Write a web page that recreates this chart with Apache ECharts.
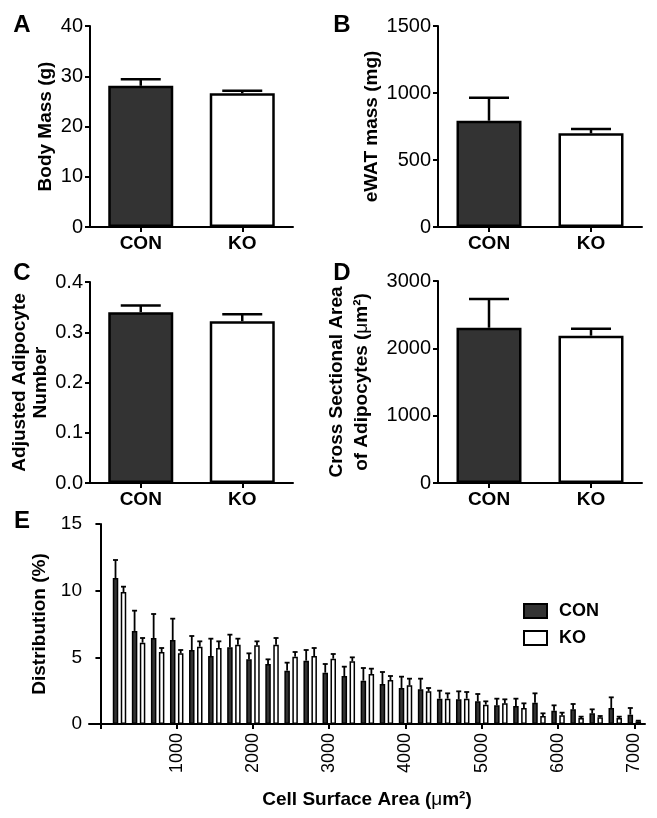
<!DOCTYPE html>
<html>
<head>
<meta charset="utf-8">
<script src="https://cdn.jsdelivr.net/npm/echarts@6/dist/echarts.min.js"></script>
<style>
html,body{margin:0;padding:0;background:#fff;}
#chart{width:657px;height:818px;}
</style>
</head>
<body>
<div id="chart"></div>
<script>
// ---------- data ----------
const groups = ['CON', 'KO'];

const bodyMass = [28.1, 26.6];
const bodyMassErr = [1.3, 0.5];

const ewatMass = [793, 699];
const ewatMassErr = [172, 32];

const adipNumber = [0.340, 0.322];
const adipNumberErr = [0.013, 0.014];

const crossArea = [2306, 2188];
const crossAreaErr = [427, 104];

const binCenters = [250, 500, 750, 1000, 1250, 1500, 1750, 2000, 2250, 2500, 2750, 3000, 3250, 3500,
  3750, 4000, 4250, 4500, 4750, 5000, 5250, 5500, 5750, 6000, 6250, 6500, 6750, 7000];
const conDist = [10.95, 6.98, 6.45, 6.3, 5.55, 5.1, 5.75, 4.85, 4.5, 4.0, 4.75, 3.85, 3.6, 3.25,
  3.0, 2.7, 2.6, 1.9, 1.85, 1.7, 1.4, 1.35, 1.6, 1.0, 1.1, 0.8, 1.2, 0.7];
const conDistErr = [1.35, 1.52, 1.8, 1.6, 1.05, 1.3, 0.95, 0.45, 0.35, 0.6, 0.8, 0.65, 0.7, 0.95,
  0.9, 0.85, 0.8, 0.6, 0.6, 0.55, 0.5, 0.55, 0.7, 0.4, 0.4, 0.3, 0.8, 0.5];
const koDist = [9.9, 6.1, 5.4, 5.3, 5.8, 5.7, 5.95, 5.9, 5.95, 5.05, 5.1, 4.9, 4.7, 3.75,
  3.3, 2.9, 2.45, 1.9, 1.9, 1.45, 1.55, 1.2, 0.6, 0.65, 0.45, 0.5, 0.45, 0.2];
const koDistErr = [0.4, 0.35, 0.3, 0.25, 0.4, 0.5, 0.45, 0.3, 0.5, 0.35, 0.6, 0.35, 0.3, 0.4,
  0.3, 0.5, 0.25, 0.4, 0.5, 0.25, 0.3, 0.35, 0.2, 0.2, 0.1, 0.1, 0.1, 0.05];

const xTickValues = [0, 1000, 2000, 3000, 4000, 5000, 6000, 7000];
const xLabelValues = [1000, 2000, 3000, 4000, 5000, 6000, 7000];

// ---------- styles ----------
const FONT = "'Liberation Sans', Arial, Helvetica, sans-serif";
const CON_FILL = '#333333';
const KO_FILL = '#ffffff';

const chart = echarts.init(document.getElementById('chart'), null, {renderer: 'canvas'});

function errRender(offsetPx, capW, lw) {
  return function (params, api) {
    const x = api.value(0), y = api.value(1), e = api.value(2);
    const p0 = api.coord([x, y]);
    const p1 = api.coord([x, y + e]);
    const cx = p0[0] + offsetPx;
    return {
      type: 'group',
      children: [
        {type: 'line', shape: {x1: cx, y1: p0[1], x2: cx, y2: p1[1]}, style: {stroke: '#000', lineWidth: lw}},
        {type: 'line', shape: {x1: cx - capW / 2, y1: p1[1], x2: cx + capW / 2, y2: p1[1]}, style: {stroke: '#000', lineWidth: lw}}
      ]
    };
  };
}

const plain = v => String(v);
const axisLine = {show: true, lineStyle: {color: '#000', width: 2}};
const axisTick = {show: true, inside: false, length: 5, lineStyle: {color: '#000', width: 2}};

const grids = [
  {left: 90, top: 26, width: 203, height: 201},   // A
  {left: 438, top: 26, width: 204, height: 201},  // B
  {left: 90, top: 282, width: 203, height: 201},  // C
  {left: 438, top: 281, width: 204, height: 202}, // D
  {left: 89, top: 524, width: 556, height: 200}   // E
];

function catX(gi) {
  return {
    type: 'category', gridIndex: gi, data: groups,
    axisLine: axisLine,
    axisTick: Object.assign({alignWithLabel: true}, axisTick),
    axisLabel: {color: '#000', fontFamily: FONT, fontWeight: 'bold', fontSize: 19, margin: 7}
  };
}
const richName = {
  mu: {fontFamily: FONT, fontWeight: 'normal', fontSize: 19, color: '#000'},
  b: {fontFamily: FONT, fontWeight: 'bold', fontSize: 19, color: '#000'}
};
function valY(gi, max, interval, name, nameGap, fmt, lh) {
  return {
    type: 'value', gridIndex: gi, min: 0, max: max, interval: interval,
    name: name, nameLocation: 'middle', nameGap: nameGap, nameRotate: 90,
    nameTextStyle: {color: '#000', fontFamily: FONT, fontWeight: 'bold', fontSize: 19, lineHeight: lh || 21, rich: richName},
    axisLine: axisLine, axisTick: axisTick, splitLine: {show: false},
    axisLabel: {color: '#000', fontFamily: FONT, fontSize: 20, margin: 7, formatter: fmt || plain}
  };
}

function panelSeries(gi, vals, errs) {
  return [
    {
      type: 'bar', name: 'panel' + gi, xAxisIndex: gi, yAxisIndex: gi, barWidth: 65,
      data: vals.map((v, i) => ({value: v, itemStyle: {color: i === 0 ? CON_FILL : KO_FILL, borderColor: '#000', borderWidth: 2.5}})),
      z: 2, silent: true
    },
    {
      type: 'custom', name: 'err' + gi, xAxisIndex: gi, yAxisIndex: gi,
      renderItem: errRender(0, 40, 2.5),
      data: vals.map((v, i) => [i, v, errs[i]]), z: 1, silent: true
    }
  ];
}

const letters = [['A', 22, 25], ['B', 342, 25], ['C', 22, 273], ['D', 342, 273], ['E', 22, 521]];

const option = {
  animation: false,
  backgroundColor: '#fff',
  textStyle: {fontFamily: FONT},
  grid: grids,
  legend: {
    data: ['CON', 'KO'], orient: 'vertical', left: 518, top: 597,
    itemWidth: 23, itemHeight: 14, itemGap: 9, icon: 'rect',
    itemStyle: {borderColor: '#000', borderWidth: 2},
    textStyle: {color: '#000', fontFamily: FONT, fontWeight: 'bold', fontSize: 18, padding: [0, 0, 0, 7]}
  },
  xAxis: [
    catX(0), catX(1), catX(2), catX(3),
    {
      type: 'value', gridIndex: 4, min: -150, max: 7140,
      name: '{b|Cell Surface Area (}{mu|\u03bc}{b|m\u00b2)}', nameLocation: 'middle', nameGap: 66,
      nameTextStyle: {color: '#000', fontFamily: FONT, fontWeight: 'bold', fontSize: 19, rich: richName},
      axisLine: axisLine,
      axisTick: Object.assign({customValues: xTickValues}, axisTick),
      splitLine: {show: false},
      axisLabel: {customValues: xLabelValues, rotate: 90, color: '#000', fontFamily: FONT, fontSize: 18, margin: 9, formatter: plain}
    }
  ],
  yAxis: [
    valY(0, 40, 10, 'Body Mass (g)', 34),
    valY(1, 1500, 500, 'eWAT mass (mg)', 56),
    valY(2, 0.4, 0.1, 'Adjusted Adipocyte\nNumber', 36, v => v.toFixed(1)),
    valY(3, 3000, 1000, '{b|Cross Sectional Area}\n{b|of Adipocytes (}{mu|\u03bc}{b|m\u00b2)}', 64, null, 25),
    Object.assign(valY(4, 15, 5, 'Distribution (%)', 30), {
      axisLabel: {color: '#000', fontFamily: FONT, fontSize: 19, margin: 7, formatter: plain}
    })
  ],
  series: [
    ...panelSeries(0, bodyMass, bodyMassErr),
    ...panelSeries(1, ewatMass, ewatMassErr),
    ...panelSeries(2, adipNumber, adipNumberErr),
    ...panelSeries(3, crossArea, crossAreaErr),
    {
      type: 'bar', name: 'CON', xAxisIndex: 4, yAxisIndex: 4, barWidth: 5.5, barGap: '45%',
      itemStyle: {color: CON_FILL, borderColor: '#000', borderWidth: 1.5},
      data: binCenters.map((x, i) => [x, conDist[i]]), z: 2, silent: true
    },
    {
      type: 'bar', name: 'KO', xAxisIndex: 4, yAxisIndex: 4, barWidth: 5.5, barGap: '45%',
      itemStyle: {color: KO_FILL, borderColor: '#000', borderWidth: 1.5},
      data: binCenters.map((x, i) => [x, koDist[i]]), z: 2, silent: true
    },
    {
      type: 'custom', name: 'errCON', xAxisIndex: 4, yAxisIndex: 4,
      renderItem: errRender(-4, 5, 1.8),
      data: binCenters.map((x, i) => [x, conDist[i], conDistErr[i]]), z: 3, silent: true
    },
    {
      type: 'custom', name: 'errKO', xAxisIndex: 4, yAxisIndex: 4,
      renderItem: errRender(4, 5, 1.8),
      data: binCenters.map((x, i) => [x, koDist[i], koDistErr[i]]), z: 3, silent: true
    }
  ],
  graphic: letters.map(l => ({
    type: 'text', x: l[1], y: l[2],
    style: {text: l[0], fontFamily: FONT, fontWeight: 'bold', fontSize: 24, fill: '#000',
      textAlign: 'center', textVerticalAlign: 'middle'}
  }))
};

chart.setOption(option);
</script>
</body>
</html>
